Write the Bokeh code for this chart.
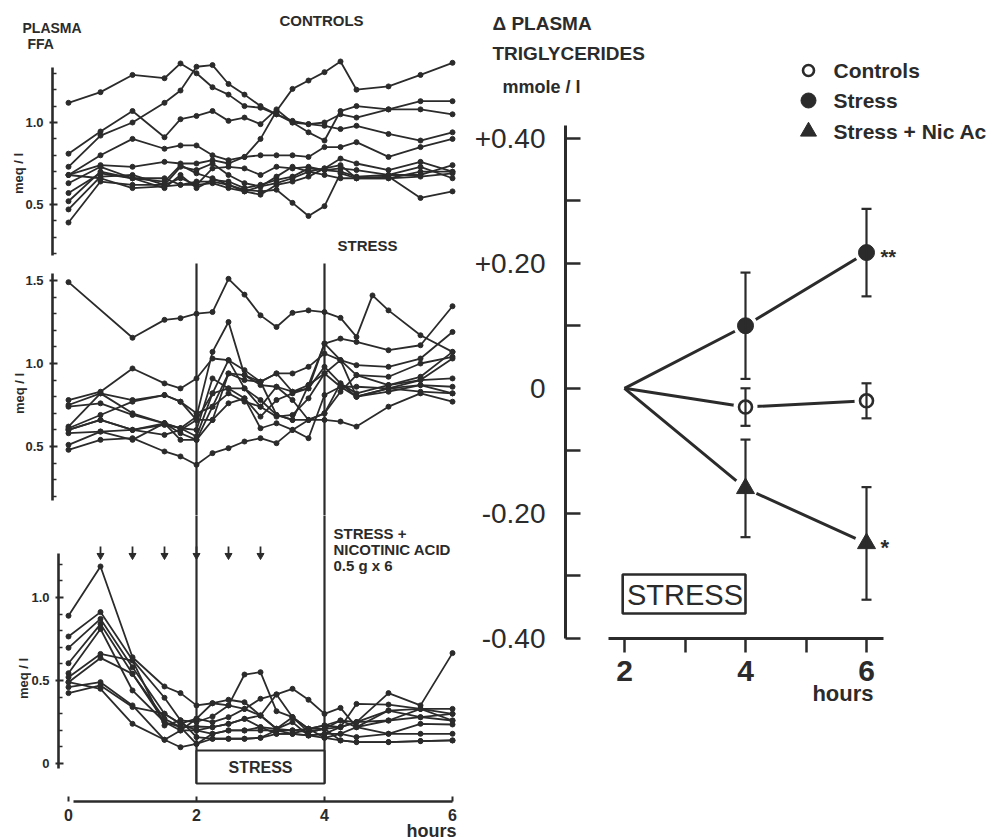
import math
from bokeh.plotting import figure
from bokeh.models import (Range1d, FixedTicker, Label, ColumnDataSource, Whisker, TeeHead)
from bokeh.layouts import row, column
from bokeh.embed import file_html
from bokeh.resources import INLINE
from bokeh.core.properties import value

INK = "#2b2b2b"
FONT = "Liberation Sans"

# ---------------------------------------------------------------- data
ffa_hours = [0, 0.5, 1, 1.5, 1.75, 2, 2.25, 2.5, 2.75, 3, 3.25, 3.5, 3.75, 4,
             4.25, 4.5, 5, 5.5, 6]
stress_hours = [0, 0.5, 1, 1.5, 1.75, 2, 2.25, 2.5, 2.75, 3, 3.25, 3.5, 3.75, 4,
                4.25, 4.5, 4.75, 5, 5.5, 6]

controls_ffa = [
    [1.12, 1.185, 1.29, 1.27, 1.36, 1.30, 1.215, 1.17, 1.10, 1.09, 1.05, 1.00, 0.99, 0.98, 0.96, 0.98, 0.93, 0.89, 0.94],
    [0.73, 0.92, 1.00, 1.12, 1.195, 1.34, 1.35, 1.235, 1.17, 1.10, 1.05, 1.01, 0.99, 1.00, 1.05, 1.03, 1.08, 1.08, 1.05],
    [0.68, 0.80, 0.90, 0.84, 0.86, 0.86, 0.80, 0.77, 0.79, 0.90, 1.07, 1.205, 1.256, 1.307, 1.372, 1.20, 1.22, 1.29, 1.364],
    [0.81, 0.945, 1.07, 0.91, 1.02, 1.04, 1.07, 1.01, 1.03, 0.99, 1.08, 1.00, 0.94, 0.89, 1.07, 1.10, 1.08, 1.13, 1.13],
    [0.68, 0.74, 0.73, 0.76, 0.75, 0.75, 0.77, 0.75, 0.79, 0.80, 0.80, 0.80, 0.79, 0.85, 0.85, 0.88, 0.79, 0.85, 0.90],
    [0.57, 0.69, 0.66, 0.64, 0.74, 0.69, 0.66, 0.62, 0.59, 0.58, 0.59, 0.51, 0.43, 0.49, 0.69, 0.66, 0.66, 0.70, 0.70],
    [0.39, 0.64, 0.62, 0.62, 0.66, 0.62, 0.63, 0.60, 0.58, 0.56, 0.62, 0.64, 0.67, 0.72, 0.74, 0.66, 0.67, 0.54, 0.58],
    [0.47, 0.67, 0.68, 0.62, 0.73, 0.71, 0.75, 0.68, 0.63, 0.61, 0.67, 0.73, 0.70, 0.72, 0.78, 0.75, 0.71, 0.76, 0.70],
    [0.52, 0.70, 0.66, 0.66, 0.62, 0.62, 0.72, 0.73, 0.72, 0.68, 0.73, 0.72, 0.73, 0.71, 0.72, 0.71, 0.68, 0.68, 0.74],
    [0.63, 0.73, 0.66, 0.60, 0.68, 0.60, 0.65, 0.64, 0.60, 0.62, 0.65, 0.67, 0.72, 0.71, 0.70, 0.67, 0.68, 0.73, 0.66],
    [0.68, 0.66, 0.60, 0.61, 0.62, 0.64, 0.64, 0.62, 0.58, 0.61, 0.63, 0.66, 0.70, 0.68, 0.66, 0.66, 0.66, 0.67, 0.69],
]

stress_ffa = [
    [1.49, None, 1.155, 1.263, 1.273, 1.30, 1.31, 1.51, 1.415, 1.29, 1.22, 1.305, 1.32, 1.31, 1.275, 1.16, 1.41, 1.32, 1.17, 1.07],
    [0.60, 0.66, 0.60, 0.63, 0.61, 0.68, 1.07, 1.25, 0.93, 0.87, 0.86, 0.83, 0.85, 1.12, 1.15, 1.13, None, 1.08, 1.11, 1.345],
    [0.78, 0.83, 0.97, 0.88, 0.85, 0.91, 1.03, 1.02, 0.96, 0.89, 0.94, 0.94, 0.98, 1.06, 1.02, 0.99, None, 0.98, 1.03, 1.19],
    [0.75, 0.82, 0.78, 0.81, 0.77, 0.70, 0.74, 0.94, 0.90, 0.89, 0.94, 0.83, 0.87, 0.94, 1.02, 0.93, None, 0.92, 1.00, 1.04],
    [0.62, 0.82, 0.70, 0.64, 0.61, 0.56, 0.82, 1.02, 0.85, 0.78, 0.69, 0.66, 0.66, 0.70, 0.88, 0.82, None, 0.87, 0.92, 1.07],
    [0.60, 0.66, 0.60, 0.64, 0.58, 0.54, 0.74, 0.82, 0.77, 0.74, 0.68, 0.69, 0.79, 0.94, 0.86, 0.86, None, 0.85, 0.90, 0.91],
    [0.58, 0.59, 0.54, 0.64, 0.54, 0.54, 0.66, 0.76, 0.79, 0.61, 0.64, 0.60, 0.55, 0.81, 0.86, 0.80, None, 0.83, 0.87, 0.86],
    [0.51, 0.59, 0.60, 0.57, 0.60, 0.66, 0.82, 0.85, 0.79, 0.68, 0.78, 0.82, 0.85, 0.98, 0.88, 0.80, None, 0.85, 0.87, 0.82],
    [0.48, 0.54, 0.55, 0.47, 0.44, 0.39, 0.46, 0.49, 0.53, 0.55, 0.52, 0.60, 0.66, 0.66, 0.65, 0.62, None, 0.74, 0.82, 0.77],
    [0.74, 0.76, 0.69, 0.64, 0.61, 0.60, 0.91, 0.85, 0.85, 0.74, 0.86, 0.78, 0.66, 0.70, 0.83, 0.93, None, 0.87, 0.90, 1.03],
    [0.61, 0.69, 0.77, 0.81, 0.77, 0.66, 0.66, 0.94, 0.93, 0.89, 0.69, 0.66, 0.87, 1.12, 1.02, 0.80, None, 0.85, 0.83, 0.82],
]

nicotinic_ffa = [
    [0.89, 1.187, 0.64, 0.464, 0.424, 0.35, 0.363, 0.384, 0.369, 0.289, 0.209, 0.20, 0.209, 0.229, 0.219, 0.249, 0.424, 0.35, 0.665],
    [0.765, 0.912, 0.624, 0.396, 0.26, 0.25, 0.283, 0.35, 0.536, 0.55, 0.315, 0.279, 0.189, 0.209, 0.259, 0.249, 0.319, 0.329, 0.329],
    [0.697, 0.871, 0.58, 0.30, 0.24, 0.27, 0.249, 0.279, 0.329, 0.39, 0.416, 0.45, 0.384, 0.299, 0.335, 0.219, 0.259, 0.279, 0.299],
    [0.604, 0.84, 0.54, 0.27, 0.219, 0.223, 0.219, 0.239, 0.269, 0.289, 0.209, 0.249, 0.169, 0.179, 0.219, 0.359, 0.355, 0.329, 0.259],
    [0.544, 0.81, 0.44, 0.25, 0.199, 0.20, 0.179, 0.199, 0.199, 0.219, 0.179, 0.179, 0.209, 0.155, 0.179, 0.219, 0.179, 0.239, 0.235],
    [0.52, 0.66, 0.62, 0.229, 0.26, 0.159, 0.149, 0.149, 0.149, 0.155, 0.20, 0.199, 0.189, 0.209, 0.139, 0.129, 0.129, 0.135, 0.139],
    [0.49, 0.636, 0.54, 0.25, 0.219, 0.118, 0.179, 0.199, 0.199, 0.199, 0.20, 0.179, 0.169, 0.179, 0.179, 0.159, 0.179, 0.179, 0.179],
    [0.46, 0.49, 0.35, 0.143, 0.098, 0.118, 0.149, 0.149, 0.149, 0.155, 0.179, 0.179, 0.169, 0.155, 0.139, 0.129, 0.129, 0.135, 0.139],
    [0.424, 0.47, 0.34, 0.30, 0.24, 0.20, 0.219, 0.239, 0.269, 0.219, 0.209, 0.279, 0.209, 0.229, 0.259, 0.219, 0.319, 0.279, 0.259],
    [0.49, 0.45, 0.239, 0.143, 0.199, 0.27, 0.363, 0.35, 0.329, 0.289, 0.416, 0.279, 0.209, 0.209, 0.219, 0.249, 0.259, 0.329, 0.299],
]

stress_period = [2, 4]
dose_hours = [0.5, 1, 1.5, 2, 2.5, 3]

tg_hours = [2, 4, 6]
tg_controls = [0.0, -0.03, -0.02]
tg_controls_se = [0.0, 0.03, 0.028]
tg_stress = [0.0, 0.10, 0.217]
tg_stress_se = [0.0, 0.085, 0.07]
tg_nic = [0.0, -0.16, -0.248]
tg_nic_se = [0.0, 0.078, 0.09]
tg_legend = ["Controls", "Stress", "Stress + Nic Ac"]
tg_stress_signif = ["", "", "**"]
tg_nic_signif = ["", "", "*"]

# ---------------------------------------------------------------- geometry (page pixels)
LEFT_W = 468
H1, H2, H3 = 258, 257, 324          # page rows 0-258, 258-515, 515-839
TOP2, TOP3 = H1, H1 + H2
RIGHT_W = 991 - LEFT_W
H4 = 839
T0_PX, PX_PER_H = 68.0, 64.0

def lx(X):                                      # page x -> hours (left panels)
    return (X - T0_PX) / PX_PER_H

y1 = lambda Y: 1.0 + (122 - Y) / 164.0           # controls panel
y2 = lambda Y: 1.0 + (363 - Y) / 166.0           # stress panel
y3 = lambda Y: (763 - Y) / 166.0                 # nicotinic acid panel
x4 = lambda X: 2.0 + (X - 624) / 60.5            # triglyceride panel
y4 = lambda Y: (387.8 - Y) / 625.5
legend_rows_px = [70, 100, 131]


def label(p, x, y, text, size, align="left", bold=True, angle=0.0,
          baseline="middle", font=FONT):
    p.add_layout(Label(x=x, y=y, text=text, text_font=font,
                       text_font_size=f"{size}px",
                       text_font_style="bold" if bold else "normal",
                       text_color=INK, text_align=align,
                       text_baseline=baseline, angle=angle))


def base_fig(w, h, xr, yr, x_axis=None):
    p = figure(width=w, height=h, x_range=xr, y_range=yr,
               output_backend="svg", toolbar_location=None,
               x_axis_location=x_axis,
               min_border_left=0, min_border_right=0,
               min_border_top=0, min_border_bottom=0)
    p.outline_line_color = None
    p.grid.visible = False
    p.background_fill_color = "white"
    p.border_fill_color = "white"
    return p


def style_ffa_axis(p, at, bounds, ticks, minor, overrides):
    ax = p.yaxis[0]
    ax.fixed_location = at
    ax.bounds = bounds
    ax.ticker = FixedTicker(ticks=ticks, minor_ticks=minor)
    ax.major_label_overrides = overrides
    ax.axis_line_width = 2.6
    ax.axis_line_color = INK
    ax.major_tick_line_color = INK
    ax.minor_tick_line_color = INK
    ax.major_tick_line_width = 2
    ax.minor_tick_line_width = 1.5
    ax.major_tick_in = 5
    ax.major_tick_out = 3
    ax.minor_tick_in = 4
    ax.minor_tick_out = 0
    ax.major_label_text_font = FONT
    ax.major_label_text_font_style = "bold"
    ax.major_label_text_font_size = "13px"
    ax.major_label_text_color = INK
    ax.major_label_standoff = 6


def draw_series(p, hours, series):
    for vals in series:
        xs = [h for h, v in zip(hours, vals) if v is not None]
        ys = [v for v in vals if v is not None]
        p.line(xs, ys, line_color=INK, line_width=1.8)
        p.scatter(xs, ys, size=5, marker="circle", fill_color=INK, line_color=INK)


LEFT_XR = (lx(0), lx(LEFT_W))

# ---------------------------------------------------------------- panel 1: controls
p1 = base_fig(LEFT_W, H1, Range1d(*LEFT_XR), Range1d(y1(H1), y1(0)))
style_ffa_axis(p1, lx(52), (y1(255), y1(67)), [0.5, 1.0],
               [0.2, 0.3, 0.4, 0.6, 0.7, 0.8, 0.9, 1.1, 1.2, 1.3],
               {0.5: "0.5", 1.0: "1.0"})
draw_series(p1, ffa_hours, controls_ffa)
label(p1, lx(22), y1(27), "PLASMA", 14)
label(p1, lx(27), y1(43), "FFA", 14)
label(p1, lx(321), y1(20), "CONTROLS", 15, align="center")
label(p1, lx(367), y1(245), "STRESS", 15, align="center")
label(p1, lx(18), y1(173), "meq / l", 13, align="center", angle=math.pi / 2)

# ---------------------------------------------------------------- panel 2: stress
p2 = base_fig(LEFT_W, H2, Range1d(*LEFT_XR), Range1d(y2(TOP3), y2(TOP2)))
style_ffa_axis(p2, lx(52), (y2(500), y2(273)), [0.5, 1.0, 1.5],
               [0.2, 0.3, 0.4, 0.6, 0.7, 0.8, 0.9, 1.1, 1.2, 1.3, 1.4],
               {0.5: "0.5", 1.0: "1.0", 1.5: "1.5"})
p2.segment(x0=stress_period, y0=[y2(263)] * 2, x1=stress_period, y1=[y2(900)] * 2,
           line_color=INK, line_width=2.2)
draw_series(p2, stress_hours, stress_ffa)
label(p2, lx(19), y2(393), "meq / l", 13, align="center", angle=math.pi / 2)

# ---------------------------------------------------------------- panel 3: stress + nicotinic acid
p3 = base_fig(LEFT_W, H3, Range1d(*LEFT_XR), Range1d(y3(839), y3(TOP3)), x_axis="below")
style_ffa_axis(p3, lx(58), (y3(768), y3(553)), [0, 0.5, 1.0],
               [0.1, 0.2, 0.3, 0.4, 0.6, 0.7, 0.8, 0.9, 1.1, 1.2],
               {0: "0", 0.5: "0.5", 1.0: "1.0"})
xa = p3.xaxis[0]
xa.fixed_location = y3(801)
xa.bounds = (lx(73), 6)
xa.ticker = FixedTicker(ticks=[0, 2, 4, 6], minor_ticks=[])
xa.axis_line_width = 2.6
xa.axis_line_color = INK
xa.major_tick_line_color = INK
xa.major_tick_line_width = 2
xa.major_tick_in = 5
xa.major_tick_out = 0
xa.minor_tick_line_color = None
xa.major_label_text_font = FONT
xa.major_label_text_font_style = "bold"
xa.major_label_text_font_size = "16px"
xa.major_label_text_color = INK
xa.major_label_standoff = 7

p3.segment(x0=stress_period, y0=[y3(0)] * 2, x1=stress_period, y1=[y3(783)] * 2,
           line_color=INK, line_width=2.2)
p3.quad(left=[stress_period[0]], right=[stress_period[1]], top=[y3(750)], bottom=[y3(783)],
        fill_color="white", line_color=INK, line_width=2.2)
p3.text(x=[sum(stress_period) / 2], y=[y3(767)], text=["STRESS"],
        text_font=value(FONT), text_font_style="bold", text_font_size="16px",
        text_color=INK, text_align="center", text_baseline="middle")
p3.segment(x0=dose_hours, y0=[y3(546)] * len(dose_hours), x1=dose_hours,
           y1=[y3(555)] * len(dose_hours), line_color=INK, line_width=1.8)
p3.scatter(dose_hours, [y3(555)] * len(dose_hours), marker="inverted_triangle",
           size=7, fill_color=INK, line_color=INK)
draw_series(p3, ffa_hours, nicotinic_ffa)
label(p3, lx(333), y3(533), "STRESS +", 15)
label(p3, lx(333), y3(549), "NICOTINIC ACID", 15)
label(p3, lx(333), y3(565), "0.5 g x 6", 15)
label(p3, lx(23), y3(678), "meq / l", 13, align="center", angle=math.pi / 2)
label(p3, lx(456), y3(830), "hours", 18, align="right")

# ---------------------------------------------------------------- panel 4: triglycerides
p4 = base_fig(RIGHT_W, H4, Range1d(x4(LEFT_W), x4(991)), Range1d(y4(H4), y4(0)),
              x_axis="below")
ya = p4.yaxis[0]
ya.fixed_location = x4(565)
ya.bounds = (-0.40, y4(125))
ya.ticker = FixedTicker(ticks=[-0.4, -0.3, -0.2, -0.1, 0, 0.1, 0.2, 0.3, 0.4], minor_ticks=[])
ya.major_label_overrides = {-0.4: "-0.40", -0.3: "", -0.2: "-0.20", -0.1: "", 0: "0",
                            0.1: "", 0.2: "+0.20", 0.3: "", 0.4: "+0.40"}
ya.axis_line_width = 3
ya.axis_line_color = INK
ya.major_tick_line_color = INK
ya.major_tick_line_width = 2.5
ya.major_tick_in = 15
ya.major_tick_out = 0
ya.minor_tick_line_color = None
ya.major_label_text_font = FONT
ya.major_label_text_font_size = "28px"
ya.major_label_text_color = INK
ya.major_label_text_baseline = "alphabetic"
ya.major_label_standoff = 20

xb = p4.xaxis[0]
xb.fixed_location = -0.40
xb.bounds = (x4(608), x4(883))
xb.ticker = FixedTicker(ticks=[2, 3, 4, 5, 6], minor_ticks=[])
xb.major_label_overrides = {2: "2", 3: "", 4: "4", 5: "", 6: "6"}
xb.axis_line_width = 3
xb.axis_line_color = INK
xb.major_tick_line_color = INK
xb.major_tick_line_width = 2.5
xb.major_tick_in = 0
xb.major_tick_out = 14
xb.minor_tick_line_color = None
xb.major_label_text_font = FONT
xb.major_label_text_font_style = "bold"
xb.major_label_text_font_size = "30px"
xb.major_label_text_color = INK
xb.major_label_standoff = 8

groups = [(tg_controls, tg_controls_se), (tg_stress, tg_stress_se), (tg_nic, tg_nic_se)]
for means, _ in groups:
    p4.line(tg_hours, means, line_color=INK, line_width=3)
for means, _ in groups:
    p4.scatter(tg_hours[1:], means[1:], size=24, marker="circle",
               fill_color="white", line_color=None)
p4.scatter(tg_hours[1:], tg_controls[1:], size=13, marker="circle",
           fill_color="white", line_color=INK, line_width=2.6)
p4.scatter(tg_hours[1:], tg_stress[1:], size=16, marker="circle",
           fill_color=INK, line_color=INK)
p4.scatter(tg_hours[1:], tg_nic[1:], size=18, marker="triangle",
           fill_color=INK, line_color=INK)
for means, se in groups:
    idx = [i for i, s in enumerate(se) if s > 0]
    src = ColumnDataSource(dict(x=[tg_hours[i] for i in idx],
                                upper=[means[i] + se[i] for i in idx],
                                lower=[means[i] - se[i] for i in idx]))
    p4.add_layout(Whisker(source=src, base="x", upper="upper", lower="lower",
                          line_color=INK, line_width=2.2, level="overlay",
                          upper_head=TeeHead(size=10, line_color=INK, line_width=2.2),
                          lower_head=TeeHead(size=10, line_color=INK, line_width=2.2)))

p4.text(x=tg_hours, y=tg_stress, text=tg_stress_signif, x_offset=14, y_offset=4,
        text_font=value(FONT), text_font_style="bold", text_font_size="20px",
        text_color=INK, text_baseline="middle")
p4.text(x=tg_hours, y=tg_nic, text=tg_nic_signif, x_offset=14, y_offset=4,
        text_font=value(FONT), text_font_style="bold", text_font_size="22px",
        text_color=INK, text_baseline="middle")

p4.quad(left=[stress_period[0] - 0.03], right=[stress_period[1]], top=[y4(574)], bottom=[y4(613)],
        fill_color="white", line_color=INK, line_width=2.6)
p4.text(x=[sum(stress_period) / 2], y=[y4(594)], text=["STRESS"],
        text_font=value(FONT), text_font_size="29px", text_color=INK,
        text_align="center", text_baseline="middle")

# legend (key symbols + names)
leg_y = [y4(v) for v in legend_rows_px]
p4.scatter([x4(808)], [leg_y[0]], size=11, marker="circle", fill_color="white",
           line_color=INK, line_width=2.6)
p4.scatter([x4(808)], [leg_y[1]], size=15, marker="circle", fill_color=INK, line_color=INK)
p4.scatter([x4(808)], [leg_y[2]], size=16, marker="triangle", fill_color=INK, line_color=INK)
p4.text(x=[x4(833)] * 3, y=leg_y, text=tg_legend,
        text_font=value(FONT), text_font_style="bold", text_font_size="21px",
        text_color=INK, text_baseline="middle")

label(p4, x4(492), y4(23), "\u0394  PLASMA", 19)
label(p4, x4(492), y4(53), "TRIGLYCERIDES", 19)
label(p4, x4(502), y4(86), "mmole / l", 18)
label(p4, x4(873), y4(693), "hours", 22, align="right")

layout = row(column(p1, p2, p3), p4)
open("out.html", "w").write(file_html(layout, INLINE))
